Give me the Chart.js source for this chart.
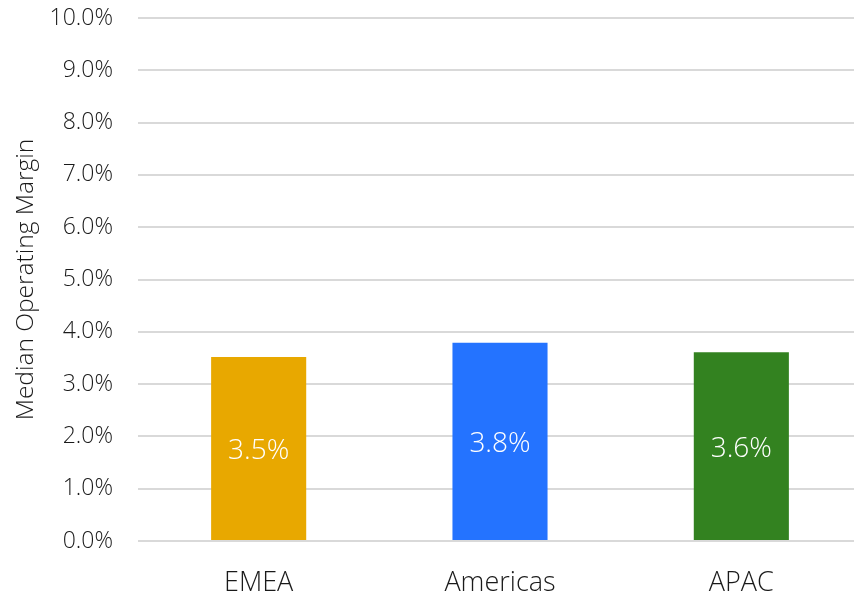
<!DOCTYPE html>
<html>
<head>
<meta charset="utf-8">
<script src="https://cdn.jsdelivr.net/npm/chart.js@4/dist/chart.umd.min.js"></script>
<style>
  html, body { margin: 0; padding: 0; background: #fff; overflow: hidden; }
  #wrap { width: 854px; height: 596px; overflow: hidden; }
</style>
</head>
<body>
<div id="wrap"><canvas id="chart" width="862" height="596"></canvas></div>
<script>
'use strict'

// **** DATA ****
let regions = ['EMEA', 'Americas', 'APAC'];
let margins = [3.52, 3.79, 3.61];
let barColors = ['#E8A800', '#2473FF', '#338220'];
let yTicks = [0, 1, 2, 3, 4, 5, 6, 7, 8, 9, 10];

const FONT = "'Open Sans', 'Segoe UI', sans-serif";

// **** PLUGINS ****
// white value label in the middle of each bar
const barLabels = {
  id: 'barLabels',
  afterDatasetsDraw(chart) {
    const ctx = chart.ctx;
    const meta = chart.getDatasetMeta(0);
    ctx.save();
    ctx.fillStyle = '#ffffff';
    ctx.font = '300 28px ' + FONT;
    ctx.textAlign = 'center';
    ctx.textBaseline = 'middle';
    meta.data.forEach((bar, i) => {
      let mid = (bar.y + bar.base) / 2 + 3;
      ctx.fillText(margins[i].toFixed(1) + '%', bar.x, mid);
    });
    ctx.restore();
  }
};

// **** CHART ****
const config = {
  type: 'bar',
  data: {
    labels: regions,
    datasets: [{
      data: margins,
      backgroundColor: barColors,
      borderWidth: 0,
      barPercentage: 0.394,
      categoryPercentage: 1
    }]
  },
  options: {
    responsive: false,
    animation: false,
    layout: { padding: 0 },
    plugins: {
      legend: { display: false },
      tooltip: { enabled: false }
    },
    scales: {
      x: {
        grid: { display: false, drawTicks: false },
        border: { display: false },
        ticks: {
          color: '#1a1a1a',
          padding: 26,
          font: { family: FONT, size: 27, weight: 300 }
        },
        afterFit(scale) {
          scale.height = 55;
          scale.paddingLeft = 0;
          scale.paddingRight = 0;
        }
      },
      y: {
        min: 0,
        max: 10,
        afterBuildTicks(scale) {
          scale.ticks = yTicks.map(v => ({ value: v }));
        },
        grid: { color: '#d9d9d9', lineWidth: 2, drawTicks: false },
        border: { display: false },
        ticks: {
          color: '#1a1a1a',
          padding: 25,
          font: { family: FONT, size: 23, weight: 300 },
          callback: v => v.toFixed(1) + '%'
        },
        title: {
          display: true,
          text: 'Median Operating Margin',
          color: '#1a1a1a',
          padding: { top: 11, bottom: 4 },
          font: { family: FONT, size: 24.5, weight: 300 }
        },
        afterFit(scale) {
          scale.width = 138;
          scale.paddingTop = 18;
          scale.paddingBottom = 0;
        }
      }
    }
  },
  plugins: [barLabels]
};

const ctx = document.getElementById('chart');
const myChart = new Chart(ctx, config);
</script>
</body>
</html>
